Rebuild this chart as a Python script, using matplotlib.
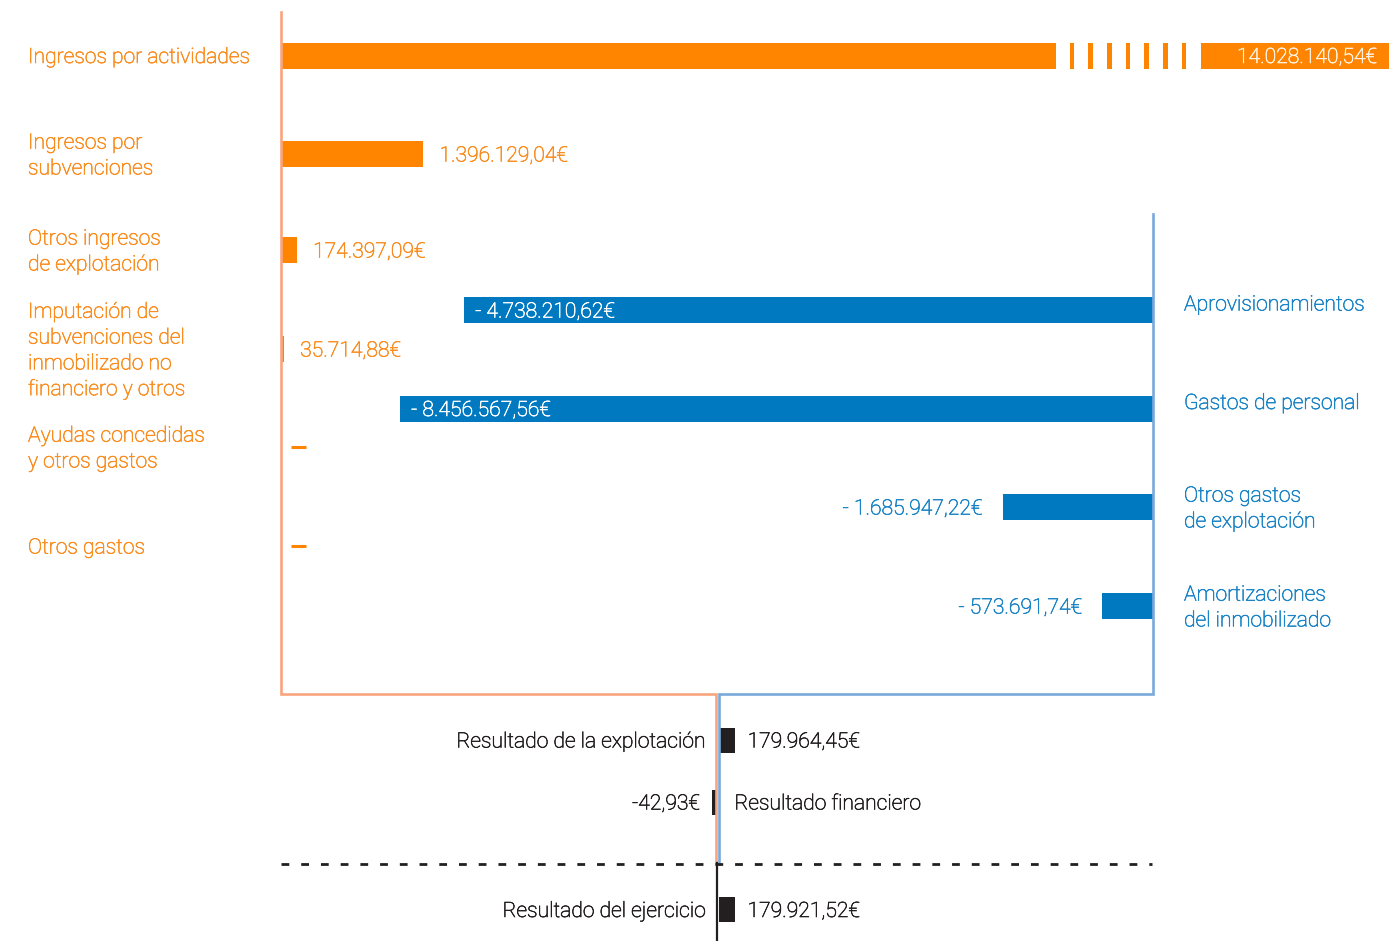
import matplotlib.pyplot as plt
import matplotlib.patheffects as pe
import numpy as np

# income rows (left, orange)
income_labels = ["Ingresos por actividades", "Ingresos por\nsubvenciones",
                 "Otros ingresos\nde explotación",
                 "Imputación de\nsubvenciones del\ninmobilizado no\nfinanciero y otros",
                 "Ayudas concedidas\ny otros gastos", "Otros gastos"]
income_values = ["14.028.140,54€", "1.396.129,04€", "174.397,09€", "35.714,88€", "", ""]
income_len = [14.03, 1.60, 0.18, 0.035, 0.0, 0.0]   # bar length as drawn (M€)

# expense rows (right, blue)
expense_labels = ["Aprovisionamientos", "Gastos de personal",
                  "Otros gastos\nde explotación", "Amortizaciones\ndel inmobilizado"]
expense_values = ["- 4.738.210,62€", "- 8.456.567,56€", "- 1.685.947,22€", "- 573.691,74€"]
expense_len = [7.74, 8.46, 1.69, 0.57]              # bar length as drawn (M€)

# results (black)
result_labels = ["Resultado de la explotación", "Resultado financiero", "Resultado del ejercicio"]
result_values = ["179.964,45€", "-42,93€", "179.921,52€"]
result_amount = [179964.45, -42.93, 179921.52]

# colours
ORANGE = "#FF8400"
ORANGE_TXT = "#F98D1F"
ORANGE_LINE = "#F8A57E"
BLUE = "#0079C1"
BLUE_TXT = "#1B84C6"
BLUE_LINE = "#7AA9DA"
BLACK = "#231F20"

plt.rcParams['font.family'] = ['Roboto', 'DejaVu Sans']
FS = 15.2
FW = 'light'
W, H = 1389, 941
PX = 89.0           # pixels per M€
X0 = 281            # zero line of incomes (pixels)

fig = plt.figure(figsize=(W / 100, H / 100), dpi=100)
ax = fig.add_axes([0, 0, 1, 1])
ax.set_xlim(-X0 / PX, (W - X0) / PX)
ax.set_ylim(H, 0)
ax.axis('off')

def px(x):
    # pixel column -> data x
    return (x - X0) / PX

d = 1.0 / PX        # one pixel in data units
pitch = 25.8        # line pitch of multi-line labels
cap = 15.0

def txt(x, y, s, color, ha='left'):
    t = ax.text(x, y, s, color=color, fontsize=FS, fontweight=FW, ha=ha, va='baseline')
    t.set_path_effects([pe.withStroke(linewidth=0.45, foreground=color)])
    return t

def put(x, yc, s, color, ha='left'):
    lines = s.split("\n")
    n = len(lines)
    for i, ln in enumerate(lines):
        yy = yc + (i - (n - 1) / 2) * pitch + cap / 2
        txt(x, yy, ln, color, ha)

# ---- frame lines
x_right = px(1153)
x_mid_o = px(716)
x_mid_b = px(718.5)
ax.plot([0, 0, x_mid_o, x_mid_o], [12, 694, 694, 863], color=ORANGE_LINE, lw=1.9,
        solid_joinstyle='miter')
ax.plot([x_right, x_right, x_mid_b, x_mid_b], [214, 694, 694, 863], color=BLUE_LINE, lw=1.9,
        solid_joinstyle='miter')
ax.plot([px(717), px(717)], [863, H], color=BLACK, lw=1.6)
ax.plot([0, px(1152)], [864, 864], color=BLACK, lw=2.0, linestyle=(0, (2.8, 4.3)))

# ---- income bars
income_y = [55.5, 154, 250, 349, 447, 546]
bh = 26
for i, (lab, val, ln, y) in enumerate(zip(income_labels, income_values, income_len, income_y)):
    put(px(28), y, lab, ORANGE_TXT)
    if i == 0:
        # broken bar: too long to fit
        brk = px(1056)
        box = px(1201)
        ax.barh(y, brk, height=bh, left=0, color=ORANGE, lw=0)
        for xc in np.linspace(px(1072), px(1184), 7):
            ax.barh(y, 4.5 * d, height=bh, left=xc - 2.25 * d, color=ORANGE, lw=0)
        ax.barh(y, ax.get_xlim()[1] - box, height=bh, left=box, color=ORANGE, lw=0)
        txt(px(1377), y + cap / 2, val, "#FFF1DF", 'right')
    elif ln > 0:
        ax.barh(y, ln, height=bh, left=0, color=ORANGE, lw=0)
        txt(ln + 16 * d, y + cap / 2, val, ORANGE_TXT)
    else:
        ax.plot([px(291), px(306)], [y, y], color=ORANGE, lw=2.2, solid_capstyle='butt')

# ---- expense bars
expense_y = [310, 408.5, 507, 606]
label_dy = [-7, -7, 0, 0]
for lab, val, ln, y, dy in zip(expense_labels, expense_values, expense_len, expense_y, label_dy):
    left = x_right - ln
    ax.barh(y, ln, height=bh, left=left, color=BLUE, lw=0)
    put(px(1184), y + dy, lab, BLUE_TXT)
    if ln > 3:
        txt(left + 11 * d, y + cap / 2, val, "white")
    else:
        txt(left - 20 * d, y + cap / 2, val, BLUE_TXT, 'right')

# ---- results
result_y = [740, 802, 909.5]
for lab, val, amt, y in zip(result_labels, result_values, result_amount, result_y):
    w = max(abs(amt) / 1e6, 4 * d)
    if amt >= 0:
        ax.barh(y, w, height=25, left=x_mid_b, color=BLACK, lw=0)
        txt(x_mid_b - 13 * d, y + cap / 2, lab, BLACK, 'right')
        txt(x_mid_b + w + 13 * d, y + cap / 2, val, BLACK)
    else:
        ax.barh(y, w, height=25, left=x_mid_o - w - 0.5 * d, color=BLACK, lw=0)
        txt(x_mid_o - w - 12 * d, y + cap / 2, val, BLACK, 'right')
        txt(x_mid_b + 16 * d, y + cap / 2, lab, BLACK)

fig.savefig("out.png", dpi=100)
